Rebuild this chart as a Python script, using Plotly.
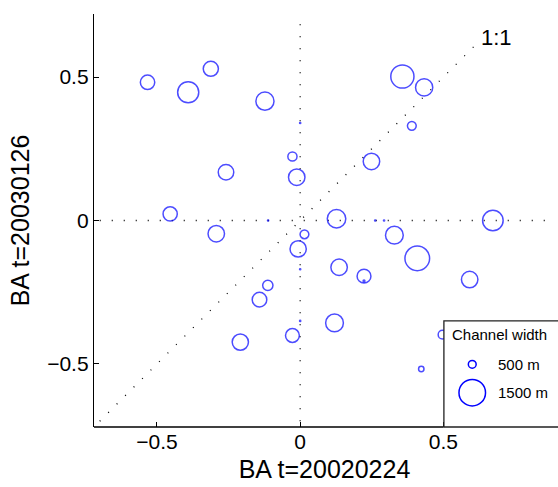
import plotly.graph_objects as go

# ---- data ----
ba_2002 = [-0.533, -0.391, -0.312, -0.123, 0.357, 0.433, 0.390, -0.027, 0.249,
           -0.259, -0.012, -0.454, -0.293, 0.015, -0.007, -0.113, -0.142, 0.127,
           0.673, 0.329, 0.409, 0.136, 0.223, 0.223, 0.592, -0.209, -0.027,
           0.120, 0.497, 0.423,
           -0.112, 0.262, 0.293, 0.0, 0.0, 0.0]
ba_2003 = [0.482, 0.447, 0.529, 0.416, 0.502, 0.464, 0.330, 0.223, 0.206,
           0.168, 0.151, 0.023, -0.046, -0.048, -0.099, -0.226, -0.276, 0.006,
           0.000, -0.051, -0.132, -0.163, -0.194, -0.211, -0.206, -0.424, -0.401,
           -0.357, -0.398, -0.518,
           0.0, 0.0, 0.0, 0.34, -0.17, -0.35]
channel_width = [850, 1210, 890, 1050, 1320, 1000, 550, 570, 960,
                 910, 960, 840, 960, 550, 950, 630, 860, 1070,
                 1180, 1030, 1400, 960, 820, 180, 960, 950, 820,
                 1030, 540, 370,
                 130, 130, 130, 130, 130, 130]
legend_widths = [500, 1500]
legend_labels = ["500 m", "1500 m"]

x_tick_vals = [-0.5, 0, 0.5]
y_tick_vals = [-0.5, 0, 0.5]

x_lim = [-0.72, 0.5]
y_lim = [-0.72, 0.72]
x_view = [-0.72, 0.89]

one_to_one = [-0.70, 0.62]
hline_x = [-0.70, 0.88]
vline_y = [-0.70, 0.70]

PX_PER_M = 0.0187
STROKE = 1.5
BLUE = "#0000ff"
FONT = "Liberation Sans, Arial, Helvetica, sans-serif"
DOT = "1px,11px"


def diam(w):
    return max(w * PX_PER_M - STROKE, 1.2)


fig = go.Figure()

# reference lines
for xs, ys in [(one_to_one, one_to_one), (hline_x, [0, 0]), ([0, 0], vline_y)]:
    fig.add_trace(go.Scatter(x=xs, y=ys, mode="lines",
                             line=dict(color="black", width=1.3, dash=DOT),
                             hoverinfo="skip", showlegend=False))

# data circles
fig.add_trace(go.Scatter(
    x=ba_2002, y=ba_2003, mode="markers", cliponaxis=False, showlegend=False,
    marker=dict(symbol="circle-open", color=BLUE,
                size=[diam(w) for w in channel_width],
                line=dict(width=STROKE, color=BLUE))))

fig.add_annotation(x=0.625, y=0.638, xref="x", yref="y", text="1:1",
                   showarrow=False, xanchor="left", yanchor="middle",
                   font=dict(size=22, color="black", family=FONT))

shapes = []
# x-axis spine (only up to x = 0.5)
shapes.append(dict(type="line", xref="x", yref="paper", x0=x_lim[0], x1=x_lim[1],
                   y0=0, y1=0, line=dict(color="black", width=1.3), layer="above"))

# legend box
lx0, ly1 = 0.759, 0.257
shapes.append(dict(type="rect", xref="paper", yref="paper", x0=lx0, x1=1.05,
                   y0=0, y1=ly1, fillcolor="white",
                   line=dict(color="#222222", width=1.3), layer="above"))
leg_y = [0.1518, 0.0831]
for w, yy, lab in zip(legend_widths, leg_y, legend_labels):
    d = diam(w)
    shapes.append(dict(type="circle", xref="paper", yref="paper",
                       xsizemode="pixel", ysizemode="pixel",
                       xanchor=0.8205, yanchor=yy,
                       x0=-d / 2, x1=d / 2, y0=-d / 2, y1=d / 2,
                       line=dict(color=BLUE, width=STROKE), layer="above"))
    fig.add_annotation(x=0.8714, y=yy, xref="paper", yref="paper", text=lab,
                       showarrow=False, xanchor="left", yanchor="middle",
                       font=dict(size=15, color="black", family=FONT))
fig.add_annotation(x=0.772, y=0.2228, xref="paper", yref="paper",
                   text="Channel width", showarrow=False, xanchor="left",
                   yanchor="middle", font=dict(size=15, color="black", family=FONT))

fig.update_layout(
    width=558, height=487,
    margin=dict(l=94, r=3, t=14, b=60),
    paper_bgcolor="white", plot_bgcolor="white",
    font=dict(family=FONT, size=21, color="black"),
    shapes=shapes,
    xaxis=dict(range=x_view, tickvals=x_tick_vals, ticks="inside", ticklen=5,
               tickwidth=1.3, tickcolor="black", showline=False, showgrid=False,
               zeroline=False, title=dict(text="BA t=20020224", standoff=8),
               tickfont=dict(size=21)),
    yaxis=dict(range=y_lim, tickvals=y_tick_vals, ticks="inside", ticklen=5,
               tickwidth=1.3, tickcolor="black", showline=True, linecolor="black",
               linewidth=1.3, showgrid=False, zeroline=False,
               title=dict(text="BA t=20030126", standoff=10),
               tickfont=dict(size=21)),
)

fig.write_html("out.html")
